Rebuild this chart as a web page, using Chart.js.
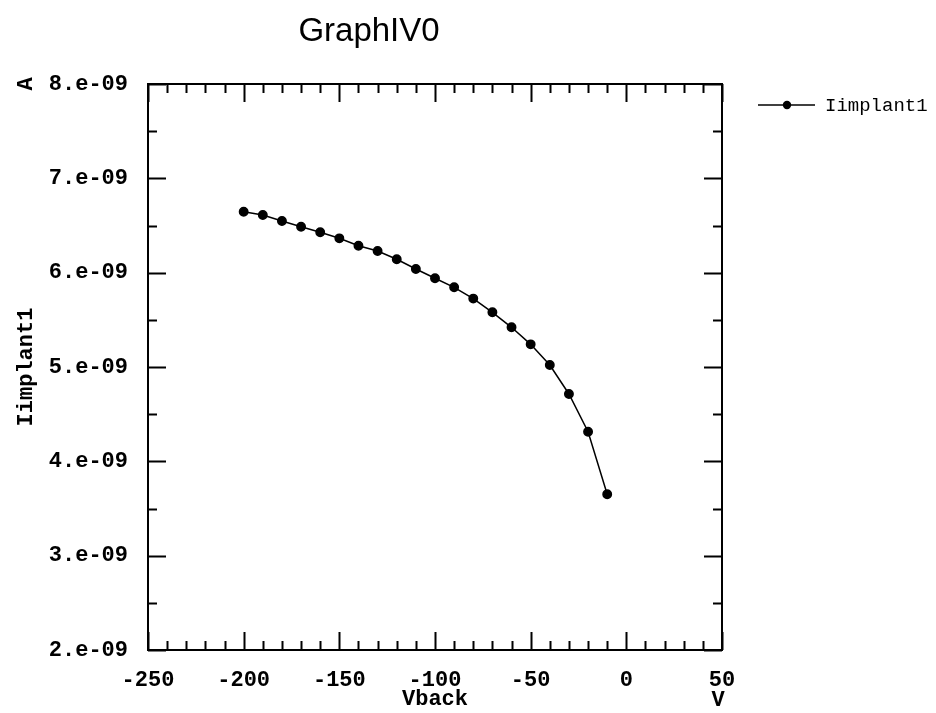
<!DOCTYPE html>
<html>
<head>
<meta charset="utf-8">
<title>GraphIV0</title>
<script src="https://cdn.jsdelivr.net/npm/chart.js@4.4.1/dist/chart.umd.min.js"></script>
<style>
  html, body { margin: 0; padding: 0; background: #fff; }
  #wrap { width: 936px; height: 713px; }
</style>
</head>
<body>
<div id="wrap"><canvas id="graph"></canvas></div>
<script>
// Vback sweep (V) and the Iimplant1 current read at each step (A)
var vback = [-200, -190, -180, -170, -160, -150, -140, -130, -120, -110,
             -100, -90, -80, -70, -60, -50, -40, -30, -20, -10];
var iimplant1 = [6.646e-9, 6.611e-9, 6.548e-9, 6.487e-9, 6.428e-9, 6.364e-9, 6.286e-9, 6.230e-9, 6.142e-9, 6.039e-9,
                 5.941e-9, 5.845e-9, 5.725e-9, 5.580e-9, 5.421e-9, 5.240e-9, 5.021e-9, 4.714e-9, 4.314e-9, 3.651e-9];

// axis ticks
var xTicks = [-250, -200, -150, -100, -50, 0, 50];
var xTickLabels = ['-250', '-200', '-150', '-100', '-50', '0', '50'];
var yTicks = [2e-9, 3e-9, 4e-9, 5e-9, 6e-9, 7e-9, 8e-9];
var yTickLabels = ['2.e-09', '3.e-09', '4.e-09', '5.e-09', '6.e-09', '7.e-09', '8.e-09'];

var monoBold = { family: '"Liberation Mono", monospace', size: 22, weight: 'bold' };

// frame, inward ticks, units, title and legend
var frame = {
  id: 'frame',
  afterDraw: function(chart) {
    var ctx = chart.ctx, a = chart.chartArea;
    var xs = chart.scales.x, ys = chart.scales.y;
    ctx.save();
    ctx.strokeStyle = '#000';
    ctx.lineWidth = 2;

    // x ticks, major every 50, minor every 10
    ctx.beginPath();
    for (var i = 0; i < xTicks.length; i++) {
      for (var k = 0; k < 5; k++) {
        var v = xTicks[i] + k * 10;
        if (v > xTicks[xTicks.length - 1]) break;
        var px = Math.round(xs.getPixelForValue(v)) + 0.5;
        var len = k === 0 ? 18 : 9;
        ctx.moveTo(px, a.bottom); ctx.lineTo(px, a.bottom - len);
        ctx.moveTo(px, a.top); ctx.lineTo(px, a.top + len);
      }
    }
    // y ticks, major every 1e-9, minor halfway
    for (var j = 0; j < yTicks.length; j++) {
      for (var m = 0; m < 2; m++) {
        var w = yTicks[j] + m * 0.5e-9;
        if (w > yTicks[yTicks.length - 1] + 1e-12) break;
        var py = Math.round(ys.getPixelForValue(w)) + 0.5;
        var l2 = m === 0 ? 18 : 9;
        ctx.moveTo(a.left, py); ctx.lineTo(a.left + l2, py);
        ctx.moveTo(a.right, py); ctx.lineTo(a.right - l2, py);
      }
    }
    ctx.stroke();

    ctx.strokeRect(a.left, a.top, a.right - a.left, a.bottom - a.top);

    // unit labels
    ctx.fillStyle = '#000';
    ctx.font = 'bold 22px "Liberation Mono", monospace';
    ctx.textAlign = 'center';
    ctx.textBaseline = 'middle';
    ctx.fillText('V', a.right - 4, 700);
    ctx.save();
    ctx.translate(26, a.top);
    ctx.rotate(-Math.PI / 2);
    ctx.fillText('A', 0, 0);
    ctx.restore();

    // title
    ctx.font = '33px "Liberation Sans", Arial, sans-serif';
    ctx.fillText(chart.options.plugins.title.text, 369, 32);

    // legend
    var ds = chart.data.datasets[0];
    var ly = a.top + 21;
    ctx.lineWidth = 1.5;
    ctx.beginPath();
    ctx.moveTo(a.right + 36, ly); ctx.lineTo(a.right + 93, ly);
    ctx.stroke();
    ctx.beginPath();
    ctx.arc(a.right + 65, ly, 4.2, 0, Math.PI * 2);
    ctx.fill();
    ctx.font = '19px "Liberation Mono", monospace';
    ctx.textAlign = 'left';
    ctx.fillText(ds.label, a.right + 103, ly + 1);
    ctx.restore();
  }
};

new Chart(document.getElementById('graph'), {
  type: 'scatter',
  data: {
    datasets: [{
      label: 'Iimplant1',
      data: vback.map(function(v, i) { return { x: v, y: iimplant1[i] }; }),
      showLine: true,
      borderColor: '#000',
      backgroundColor: '#000',
      borderWidth: 1.5,
      pointRadius: 4.2,
      pointHoverRadius: 4.2,
      tension: 0
    }]
  },
  options: {
    responsive: true,
    maintainAspectRatio: false,
    animation: false,
    devicePixelRatio: 1,
    layout: { padding: { top: 84, right: 214, left: 0, bottom: 0 } },
    plugins: {
      legend: { display: false },
      title: { display: false, text: 'GraphIV0' },
      tooltip: { enabled: false }
    },
    scales: {
      x: {
        type: 'linear',
        min: -250,
        max: 50,
        afterBuildTicks: function(s) { s.ticks = xTicks.map(function(v) { return { value: v }; }); },
        afterFit: function(s) { s.height = 63; },
        grid: { display: false, drawTicks: false },
        border: { display: false },
        ticks: {
          padding: 17,
          maxRotation: 0,
          color: '#000',
          font: monoBold,
          callback: function(v, i) { return xTickLabels[i]; }
        },
        title: { display: true, text: 'Vback', color: '#000', font: monoBold, padding: 0 }
      },
      y: {
        type: 'linear',
        min: 2e-9,
        max: 8e-9,
        afterBuildTicks: function(s) { s.ticks = yTicks.map(function(v) { return { value: v }; }); },
        afterFit: function(s) { s.width = 148; },
        grid: { display: false, drawTicks: false },
        border: { display: false },
        ticks: {
          padding: 20,
          color: '#000',
          font: monoBold,
          callback: function(v, i) { return yTickLabels[i]; }
        },
        title: { display: true, text: 'Iimplant1', color: '#000', font: monoBold, padding: { top: 13, bottom: 0 } }
      }
    }
  },
  plugins: [frame]
});
</script>
</body>
</html>
